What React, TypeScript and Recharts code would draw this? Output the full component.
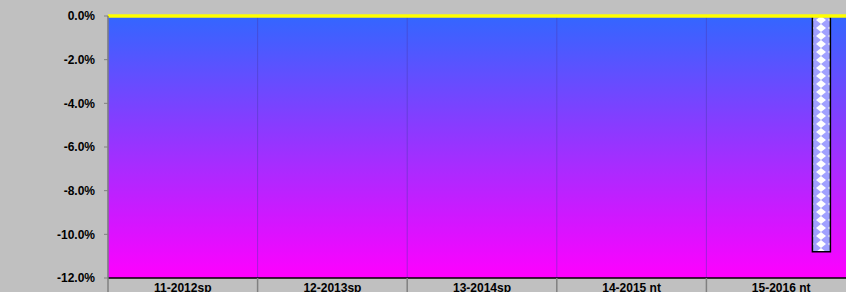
import { BarChart, Bar, XAxis, YAxis, CartesianGrid, ReferenceLine } from 'recharts';

const categories = ['11-2012sp', '12-2013sp', '13-2014sp', '14-2015 nt', '15-2016 nt'];
// only the last series has a value, in the last season
const seriesA = [null, null, null, null, null];
const seriesB = [null, null, null, null, null];
const seriesC = [null, null, null, null, null];
const seriesD = [null, null, null, null, null];
const seriesE = [null, null, null, null, -0.108];
const yTicks = [0, -0.02, -0.04, -0.06, -0.08, -0.1, -0.12];

const data = categories.map((c, i) => ({
  name: c,
  a: seriesA[i],
  b: seriesB[i],
  c: seriesC[i],
  d: seriesD[i],
  e: seriesE[i],
}));

const W = 870;
const H = 310;
const margin = { top: 16, right: 14, bottom: 0, left: 0 };
const yAxisWidth = 108;
const plotWidth = W - margin.left - margin.right - yAxisWidth;
const band = plotWidth / categories.length;

const font = { fontFamily: '"Liberation Sans", Arial, sans-serif', fontWeight: 700, fontSize: 12, fill: '#000' };

const CatTick = (props: any) => {
  const { x, y, payload } = props;
  const bx = x - band / 2;
  return (
    <g>
      <line x1={bx} x2={bx} y1={y - 5} y2={y + 20} stroke="#808080" strokeWidth={1.5} />
      <text x={x} y={y} dy="0.71em" textAnchor="middle" style={font}>
        {payload.value}
      </text>
    </g>
  );
};

const App = () => {
  return (
    <div style={{ position: 'absolute', left: 0, top: 0, width: 846, height: 292, overflow: 'hidden', background: '#C0C0C0' }}>
      <svg width={0} height={0} style={{ position: 'absolute' }}>
        <defs>
          <linearGradient id="plotBg" x1="0" y1="0" x2="0" y2="1">
            <stop offset="0%" stopColor="#3366FF" />
            <stop offset="100%" stopColor="#FF00FF" />
          </linearGradient>
          <pattern id="diamonds" x={-1} y={0} width={12} height={8} patternUnits="userSpaceOnUse">
            <rect width={12} height={8} fill="#A0A0FF" />
            <polygon points="6,0 11,4 6,8 1,4" fill="#FFFFFF" />
          </pattern>
        </defs>
      </svg>
      <BarChart width={W} height={H} data={data} margin={margin} barSize={18} barGap={2}>
        <CartesianGrid
          horizontal={false}
          fill="url(#plotBg)"
          stroke="#4a3ab0"
          strokeOpacity={0.45}
          verticalCoordinatesGenerator={({ offset }: any) =>
            categories.map((_, i) => offset.left + (i * offset.width) / categories.length)
          }
        />
        <XAxis
          dataKey="name"
          height={32}
          axisLine={{ stroke: '#000', strokeWidth: 1.5 }}
          tickLine={false}
          tickSize={0}
          tickMargin={5}
          tick={<CatTick />}
          interval={0}
        />
        <YAxis
          width={yAxisWidth}
          domain={[-0.12, 0]}
          ticks={yTicks}
          tickFormatter={(v: number) => (v * 100).toFixed(1) + '%'}
          axisLine={{ stroke: '#808080', strokeWidth: 1.5 }}
          tickLine={{ stroke: '#808080' }}
          tickSize={4}
          tickMargin={9}
          tick={font}
          allowDataOverflow
        />
        <Bar dataKey="a" isAnimationActive={false} fill="url(#diamonds)" />
        <Bar dataKey="b" isAnimationActive={false} fill="url(#diamonds)" />
        <Bar dataKey="c" isAnimationActive={false} fill="url(#diamonds)" />
        <Bar dataKey="d" isAnimationActive={false} fill="url(#diamonds)" />
        <Bar dataKey="e" isAnimationActive={false} fill="url(#diamonds)" stroke="#000" strokeWidth={1.5} />
        <ReferenceLine y={0} stroke="#FFFF00" strokeWidth={3.5} />
      </BarChart>
    </div>
  );
};

export default App;
